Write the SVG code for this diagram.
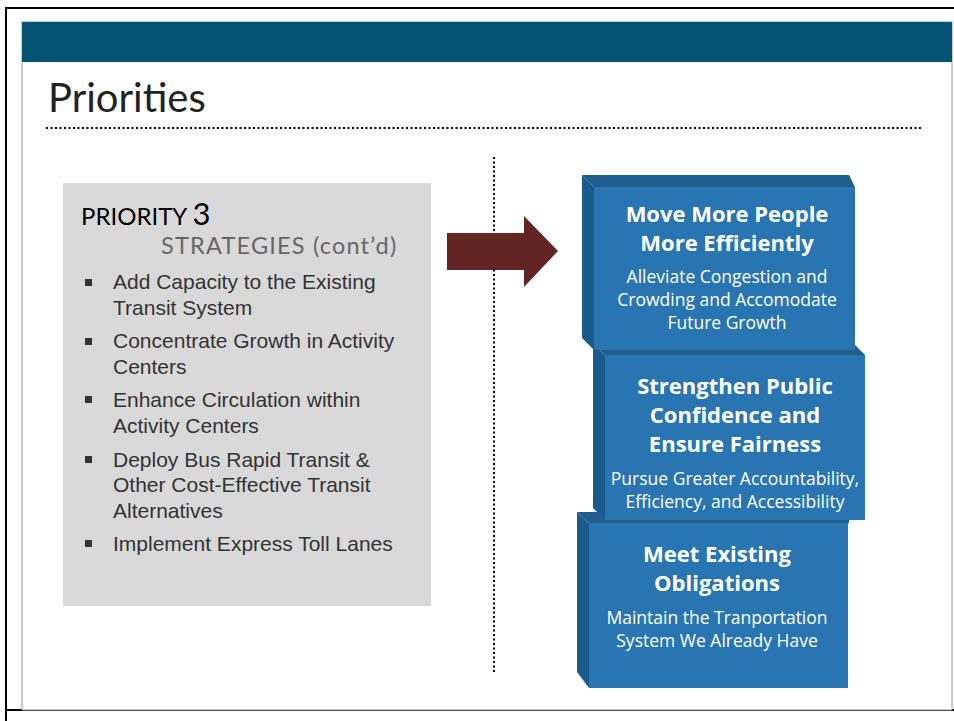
<svg xmlns="http://www.w3.org/2000/svg" width="954" height="721" viewBox="0 0 954 721">
<defs>
<style>
.gill{font-family:Lato,"Open Sans","Liberation Sans",sans-serif}
.bul{font-family:"Liberation Sans",Arial,sans-serif;font-size:21px;fill:#333}
.bt{font-family:"Open Sans","Liberation Sans",sans-serif;font-weight:bold;font-size:22px;fill:#fff;text-anchor:middle}
.bs{font-family:"Open Sans","Liberation Sans",sans-serif;font-size:17.5px;fill:#fff;text-anchor:middle}
.face{fill:#2875b2}
.side{fill:#1b5a8c}
.top{fill:#1f5d8d}
.dot{stroke:#000;stroke-width:2;stroke-dasharray:2 2.5;fill:none}
</style>
</defs>
<rect width="954" height="721" fill="#fff"/>
<path d="M6,721 V8 H954" fill="none" stroke="#000" stroke-width="2"/>
<line x1="6" y1="710" x2="954" y2="710" stroke="#000" stroke-width="2"/>
<rect x="22" y="22" width="930" height="688" fill="#fff" stroke="#999" stroke-width="1"/>
<rect x="22" y="22" width="930" height="40" fill="#045274"/>
<text class="gill" x="48" y="112" font-size="40" fill="#222">Priorities</text>
<line class="dot" x1="46" y1="128" x2="922" y2="128"/>
<line class="dot" x1="494" y1="157" x2="494" y2="673"/>

<g id="strategies">
<rect x="63" y="183" width="368" height="423" fill="#d9d9d9"/>
<text class="gill" x="81" y="225" font-size="24" fill="#000">PRIORITY <tspan font-size="31">3</tspan></text>
<text class="gill" x="161" y="254" font-size="23.5" letter-spacing="1.2" fill="#666">STRATEGIES (cont’d)</text>
<g fill="#333">
<rect x="85" y="279" width="7" height="7"/>
<rect x="85" y="338" width="7" height="7"/>
<rect x="85" y="396" width="7" height="7"/>
<rect x="85" y="456" width="7" height="7"/>
<rect x="85" y="540" width="7" height="7"/>
</g>
<text class="bul" x="113" y="289">Add Capacity to the Existing</text>
<text class="bul" x="113" y="315">Transit System</text>
<text class="bul" x="113" y="348">Concentrate Growth in Activity</text>
<text class="bul" x="113" y="374">Centers</text>
<text class="bul" x="113" y="407">Enhance Circulation within</text>
<text class="bul" x="113" y="433">Activity Centers</text>
<text class="bul" x="113" y="467">Deploy Bus Rapid Transit &amp;</text>
<text class="bul" x="113" y="492">Other Cost-Effective Transit</text>
<text class="bul" x="113" y="518">Alternatives</text>
<text class="bul" x="113" y="551">Implement Express Toll Lanes</text>
</g>

<g id="connectors">
<path d="M447,233 H524 V216 L558,251 L524,287 V270 H447 Z" fill="#632523"/>
</g>

<g id="block3">
<path class="top" d="M577,512 L846,512 Q849,512 849,516 L849,523 L589,523 Z"/>
<path class="side" d="M577,512 L589,523 L589,688 L577,672 Z"/>
<rect class="face" x="589" y="523" width="259" height="165"/>
<text class="bt" x="717" y="562">Meet Existing</text>
<text class="bt" x="717" y="591">Obligations</text>
<text class="bs" x="717" y="624">Maintain the Tranportation</text>
<text class="bs" x="717" y="647">System We Already Have</text>
</g>

<g id="block2">
<path class="top" d="M593,343 L853,343 L865,355 L605,355 Z"/>
<path class="side" d="M593,343 L605,355 L605,520 L593,508 Z"/>
<rect class="face" x="605" y="355" width="260" height="165"/>
<text class="bt" x="735" y="394">Strengthen Public</text>
<text class="bt" x="735" y="423">Confidence and</text>
<text class="bt" x="735" y="452">Ensure Fairness</text>
<text class="bs" x="735" y="485">Pursue Greater Accountability,</text>
<text class="bs" x="735" y="508">Efficiency, and Accessibility</text>
</g>

<g id="block1">
<path class="top" d="M582,175 L849,175 L855,187 L594,187 Z"/>
<path class="side" d="M582,175 L594,187 L594,350 L582,338 Z"/>
<rect class="face" x="594" y="187" width="261" height="163"/>
<text class="bt" x="727" y="222">Move More People</text>
<text class="bt" x="727" y="251">More Efficiently</text>
<text class="bs" x="727" y="283">Alleviate Congestion and</text>
<text class="bs" x="727" y="306">Crowding and Accomodate</text>
<text class="bs" x="727" y="329">Future Growth</text>
</g>
</svg>
